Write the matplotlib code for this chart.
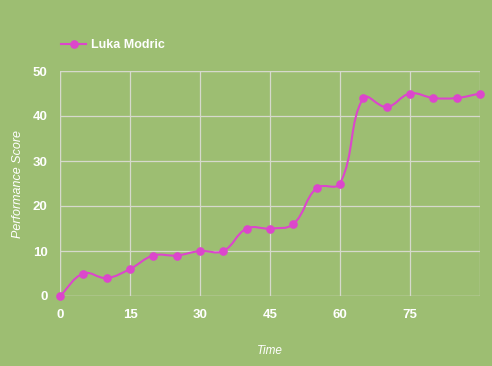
import matplotlib
matplotlib.use("Agg")
import matplotlib.pyplot as plt
import numpy as np
from matplotlib.path import Path
from matplotlib.patches import PathPatch
from matplotlib.lines import Line2D

# %% data
time = [0, 5, 10, 15, 20, 25, 30, 35, 40, 45, 50, 55, 60, 65, 70, 75, 80, 85, 90]
score = [0, 5, 4, 6, 9, 9, 10, 10, 15, 15, 16, 24, 25, 44, 42, 45, 44, 44, 45]
x_ticks = [0, 15, 30, 45, 60, 75]
y_ticks = [0, 10, 20, 30, 40, 50]
series_name = "Luka Modric"

bg = "#9dbe72"
line_col = "#dc46cc"
grid_col = "#d6d9cc"
plt.rcParams["font.family"] = ["Liberation Sans", "DejaVu Sans"]

fig = plt.figure(figsize=(4.92, 3.66), dpi=100, facecolor=bg)
ax = fig.add_axes([60 / 492, 1 - 296 / 366, 420 / 492, 225 / 366], facecolor=bg)
ax.set_xlim(0, 90)
ax.set_ylim(0, 50)
ax.set_xticks(x_ticks)
ax.set_yticks(y_ticks)
ax.grid(True, color=grid_col, linewidth=0.9)
for s in ax.spines.values():
    s.set_visible(False)
ax.axvline(90, color=grid_col, linewidth=0.9)
ax.axhline(50, color=grid_col, linewidth=0.9)
ax.axvline(0, color=grid_col, linewidth=0.9)
ax.axhline(0, color=grid_col, linewidth=0.9)
ax.tick_params(length=0, pad=9, colors="white", labelsize=9.5)
for lab in ax.get_xticklabels() + ax.get_yticklabels():
    lab.set_fontweight("bold")

# smooth line like chart.js (tension 0.4), computed in pixel space
pts = ax.transData.transform(np.column_stack([time, score]))
t = 0.4
verts = [pts[0]]
codes = [Path.MOVETO]
cps = []
for i in range(len(pts)):
    prev = pts[max(i - 1, 0)]
    cur = pts[i]
    nxt = pts[min(i + 1, len(pts) - 1)]
    d01 = np.hypot(*(cur - prev))
    d12 = np.hypot(*(nxt - cur))
    tot = d01 + d12 if d01 + d12 > 0 else 1
    fa = t * d01 / tot
    fb = t * d12 / tot
    cps.append((cur - fa * (nxt - prev), cur + fb * (nxt - prev)))
for i in range(1, len(pts)):
    verts += [cps[i - 1][1], cps[i][0], pts[i]]
    codes += [Path.CURVE4] * 3
path = Path(ax.transData.inverted().transform(np.array(verts)), codes)
ax.add_patch(PathPatch(path, facecolor="none", edgecolor=line_col, linewidth=1.5, zorder=3))
ax.plot(time, score, linestyle="none", marker="o", markersize=5.2, color=line_col,
        clip_on=False, zorder=4)

ax.set_xlabel("Time", color="white", style="italic", fontsize=8.5, labelpad=18)
ax.set_ylabel("Performance Score", color="white", style="italic", fontsize=9, labelpad=6)

handle = Line2D([], [], color=line_col, linewidth=1.5, marker="o", markersize=5.2)
leg = fig.legend([handle], [series_name], loc="center left", bbox_to_anchor=(50 / 492, 1 - 45 / 366),
                 frameon=False, handlelength=2.0, handletextpad=0.4,
                 prop={"weight": "bold", "size": 9})
for txt in leg.get_texts():
    txt.set_color("white")

fig.savefig("out.png", dpi=100, facecolor=bg)
